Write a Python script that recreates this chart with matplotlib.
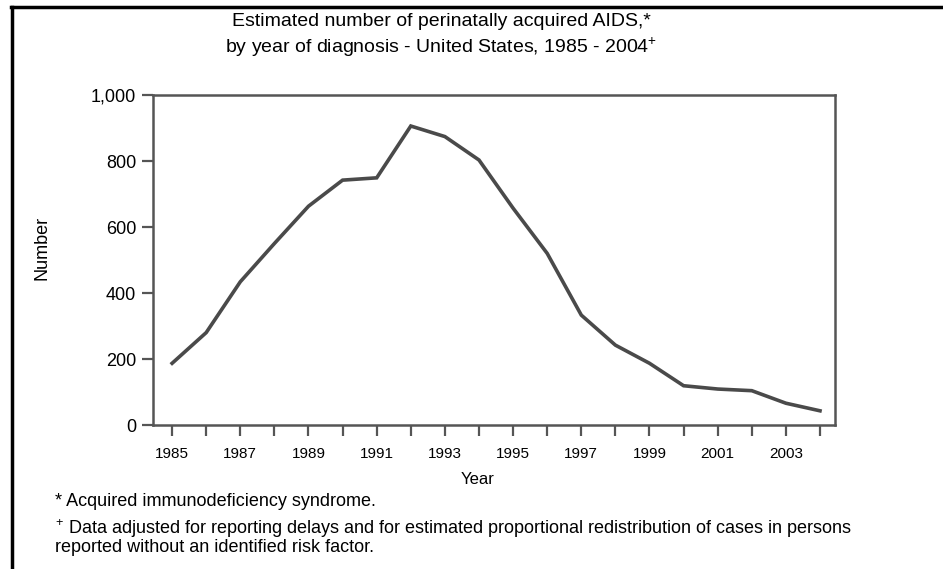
import matplotlib

matplotlib.use("Agg")
import matplotlib.pyplot as plt
from matplotlib.lines import Line2D

# Estimated perinatally acquired AIDS cases by year of diagnosis
years = list(range(1985, 2005))
cases = [187, 280, 434, 550, 663, 742, 749, 906, 874, 803,
         657, 520, 333, 242, 187, 119, 109, 104, 66, 43]
y_ticks = [0, 200, 400, 600, 800, 1000]
y_labels = ["0", "200", "400", "600", "800", "1,000"]

plt.rcParams.update({
    "font.family": ["Liberation Sans", "DejaVu Sans"],
    "mathtext.default": "regular",
    "mathtext.fontset": "custom",
    "mathtext.rm": "Liberation Sans",
})

W, H = 943, 569
fig = plt.figure(figsize=(W / 100, H / 100), dpi=100)
ax = fig.add_axes([153 / W, 1 - 425 / H, (835 - 153) / W, (425 - 95) / H])

ax.plot(years, cases, color="#4a4a4a", linewidth=2.6, solid_joinstyle="miter")
ax.set_xlim(1984.44, 2004.44)
ax.set_ylim(0, 1000)

ax.set_xticks(years)
ax.set_xticklabels([str(y) if y % 2 == 1 else "" for y in years])
ax.set_yticks(y_ticks)
ax.set_yticklabels(y_labels)
ax.tick_params(axis="x", length=8, width=1.6, color="#555555", labelsize=11, pad=8)
ax.tick_params(axis="y", length=8, width=1.6, color="#555555", labelsize=13, pad=4)
for sp in ax.spines.values():
    sp.set_color("#555555")
    sp.set_linewidth(1.8)

fig.text(478 / W, 1 - 479 / H, "Year", ha="center", va="center", fontsize=12)
fig.text(42 / W, 1 - 248 / H, "Number", ha="center", va="center", rotation=90, fontsize=13)

fig.text(441 / W, 1 - 22 / H, "Estimated number of perinatally acquired AIDS,*",
         ha="center", va="center", fontsize=14)
fig.text(441 / W, 1 - 47 / H, "by year of diagnosis - United States, 1985 - 2004$^{+}$",
         ha="center", va="center", fontsize=14)

fig.text(55 / W, 1 - 502 / H, "* Acquired immunodeficiency syndrome.",
         ha="left", va="center", fontsize=13)
fig.text(55 / W, 1 - 529 / H, "$^{+}$ Data adjusted for reporting delays and for estimated "
         "proportional redistribution of cases in persons",
         ha="left", va="center", fontsize=13)
fig.text(55 / W, 1 - 548 / H, "reported without an identified risk factor.",
         ha="left", va="center", fontsize=13)

# page border on top and left
fig.add_artist(Line2D([11 / W, 1], [1 - 7 / H, 1 - 7 / H], color="black", linewidth=2.5,
                      transform=fig.transFigure))
fig.add_artist(Line2D([12 / W, 12 / W], [0, 1 - 7 / H], color="black", linewidth=2.5,
                      transform=fig.transFigure))

fig.savefig("out.png", dpi=100)
